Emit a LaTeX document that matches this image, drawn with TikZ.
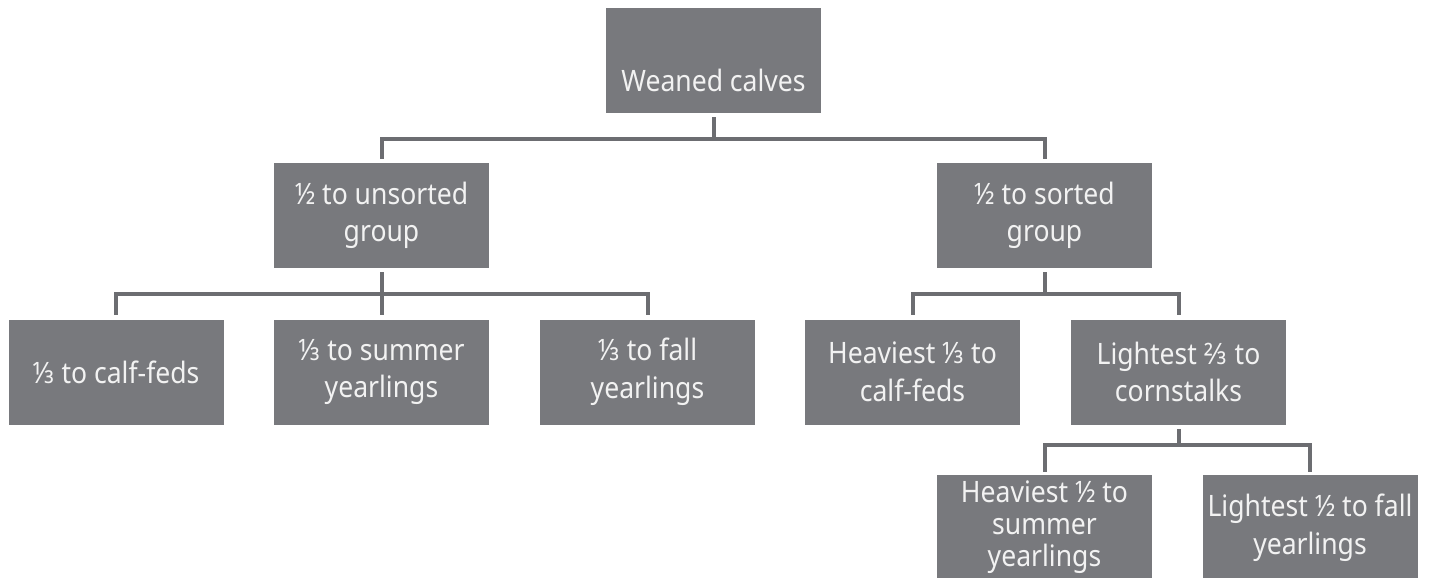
\documentclass[tikz,border=0pt]{standalone}
\usepackage{fontspec}
\setmainfont[FakeStretch=0.9]{Noto Sans}
\definecolor{boxfill}{RGB}{120,121,125}
\definecolor{linecol}{RGB}{108,109,113}
\definecolor{txt}{RGB}{242,242,242}
\begin{document}
\begin{tikzpicture}[x=1pt,y=-1pt,
  box/.style={draw=none,fill=boxfill,text=txt,minimum width=215pt,minimum height=105pt,
    inner sep=0pt,align=center,font=\fontsize{29.5}{37.5}\selectfont},
  conn/.style={draw=linecol,line width=4pt,line join=miter,line cap=rect}]
\clip (0,0) rectangle (1429,578);
\fill[white] (0,0) rectangle (1429,578);
% boxes
\node[box,text height=63pt,text depth=0pt] (w) at (713.5,60.5) {Weaned calves};
\node[box] (u) at (381.5,215.5) {½ to unsorted\\group};
\node[box] (s) at (1044.5,215.5) {½ to sorted\\group};
\node[box] (c1) at (116,372) {⅓ to calf-feds};
\node[box] (c2) at (381.5,372) {⅓ to summer\\yearlings};
\node[box] (c3) at (647.5,372) {⅓ to fall\\yearlings};
\node[box] (d1) at (912.5,372) {Heaviest ⅓ to\\calf-feds};
\node[box] (d2) at (1178.5,372) {Lightest ⅔ to\\cornstalks};
\node[box,font=\fontsize{29.5}{32}\selectfont] (e1) at (1044.5,527.5) {Heaviest ½ to\\summer\\yearlings};
\node[box] (e2) at (1310,527.5) {Lightest ½ to fall\\yearlings};
% junction coordinates
\coordinate (h1) at (713.5,139);
\coordinate (h2) at (381.5,294);
\coordinate (h3) at (1044.5,294);
\coordinate (h4) at (1178.5,445);
% connectors
\draw[conn] ([yshift=-6pt]w.south) -- (h1);
\draw[conn] ([yshift=6pt]u.north) |- (h1) -| ([yshift=6pt]s.north);
\draw[conn] ([yshift=-6pt]u.south) -- ([yshift=6pt]c2.north);
\draw[conn] ([yshift=6pt]c1.north) |- (h2) -| ([yshift=6pt]c3.north);
\draw[conn] ([yshift=-6pt]s.south) -- (h3);
\draw[conn] ([yshift=6pt]d1.north) |- (h3) -| ([yshift=6pt]d2.north);
\draw[conn] ([yshift=-6pt]d2.south) -- (h4);
\draw[conn] ([yshift=5pt]e1.north) |- (h4) -| ([yshift=5pt]e2.north);
\end{tikzpicture}
\end{document}
